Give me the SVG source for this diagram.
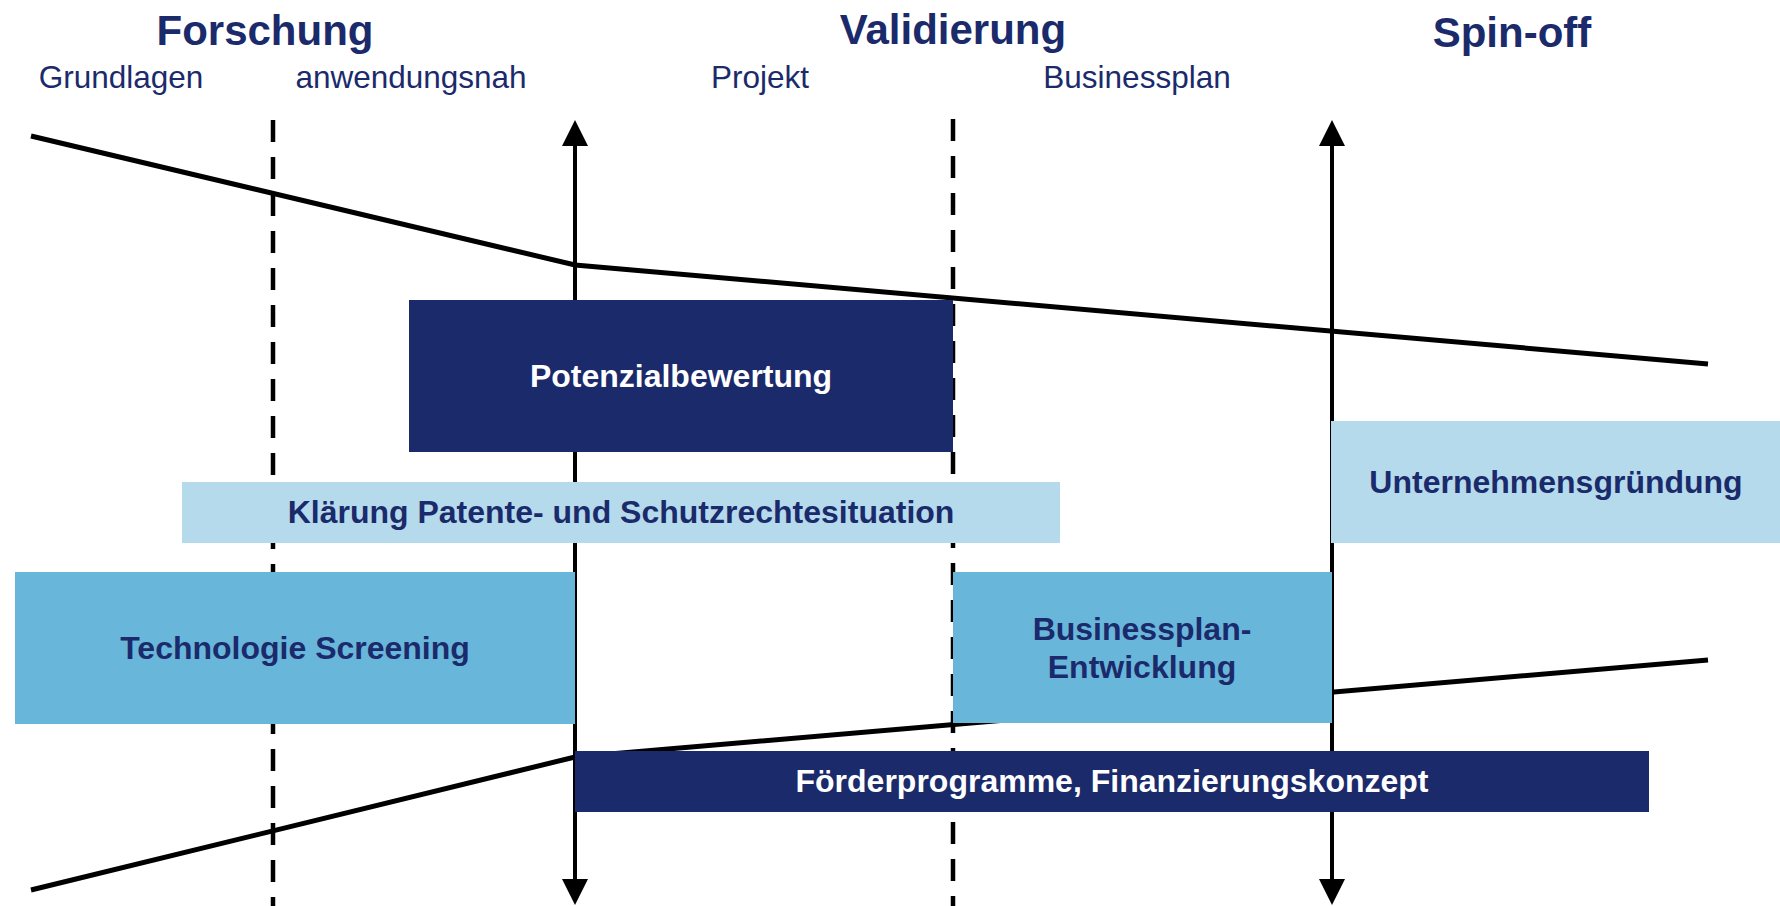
<svg xmlns="http://www.w3.org/2000/svg" width="1780" height="906" viewBox="0 0 1780 906">
<style>
.head{font-family:"Liberation Sans",Arial,sans-serif;font-weight:bold;font-size:42px;fill:#1B2A6B;text-anchor:middle}
.sub{font-family:"Liberation Sans",Arial,sans-serif;font-size:31.5px;fill:#1B2A6B;text-anchor:middle}
.bt{font-family:"Liberation Sans",Arial,sans-serif;font-weight:bold;font-size:32px;text-anchor:middle}
.navy{fill:#1B2A6B}
.light{fill:#B4DAEC}
.mid{fill:#69B6DB}
.white{fill:#FFFFFF}
.curve{fill:none;stroke:#000;stroke-width:5;stroke-linejoin:miter}
.dash{stroke:#000;stroke-width:4.5;stroke-dasharray:22 15}
.axis{stroke:#000;stroke-width:4}
</style>
<defs>
<marker id="ah" viewBox="0 0 26 26" refX="6" refY="13" markerWidth="26" markerHeight="26" markerUnits="userSpaceOnUse" orient="auto-start-reverse">
<path d="M0,0 L26,13 L0,26 z" fill="#000"/>
</marker>
</defs>
<rect width="1780" height="906" fill="#FFFFFF"/>
<g id="headings">
<text class="head" x="265" y="45">Forschung</text>
<text class="head" x="953" y="44">Validierung</text>
<text class="head" x="1512" y="47">Spin-off</text>
<text class="sub" x="121" y="88">Grundlagen</text>
<text class="sub" x="411" y="88">anwendungsnah</text>
<text class="sub" x="760" y="88">Projekt</text>
<text class="sub" x="1137" y="88">Businessplan</text>
</g>
<g id="connectors">
<polyline class="curve" points="31,136 575,265 1708,364"/>
<polyline class="curve" points="31,890 575,757 1708,660"/>
<line class="dash" x1="273" y1="120" x2="273" y2="906"/>
<line class="dash" x1="953" y1="119" x2="953" y2="906"/>
<line class="axis" x1="575" y1="140" x2="575" y2="885" marker-start="url(#ah)" marker-end="url(#ah)"/>
<line class="axis" x1="1332" y1="140" x2="1332" y2="885" marker-start="url(#ah)" marker-end="url(#ah)"/>
</g>
<g id="potenzialbewertung">
<rect class="navy" x="409" y="300" width="544" height="152"/>
<text class="bt white" x="681" y="387">Potenzialbewertung</text>
</g>
<g id="klaerung">
<rect class="light" x="182" y="482" width="878" height="61"/>
<text class="bt navy" x="621" y="523">Klärung Patente- und Schutzrechtesituation</text>
</g>
<g id="technologie-screening">
<rect class="mid" x="15" y="572" width="560" height="152"/>
<text class="bt navy" x="295" y="659">Technologie Screening</text>
</g>
<g id="businessplan-entwicklung">
<rect class="mid" x="953" y="572" width="379" height="151"/>
<text class="bt navy" x="1142" y="640">Businessplan-</text>
<text class="bt navy" x="1142" y="678">Entwicklung</text>
</g>
<g id="unternehmensgruendung">
<rect class="light" x="1331" y="421" width="449" height="122"/>
<text class="bt navy" x="1556" y="493">Unternehmensgründung</text>
</g>
<g id="foerderprogramme">
<rect class="navy" x="575" y="751" width="1074" height="61"/>
<text class="bt white" x="1112" y="792">Förderprogramme, Finanzierungskonzept</text>
</g>
</svg>
